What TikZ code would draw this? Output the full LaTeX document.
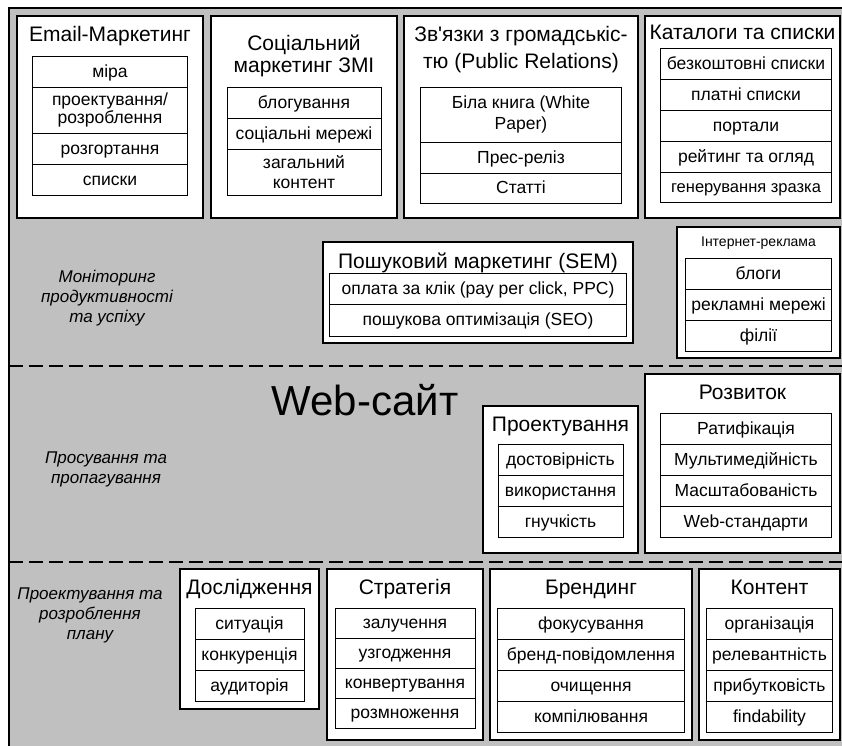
\documentclass[tikz,border=0pt]{standalone}
\usepackage{fontspec}
\setmainfont{Liberation Sans}[Ligatures=TeXOff]
\usetikzlibrary{positioning}
\definecolor{bggray}{RGB}{192,192,192}

\begin{document}
\begin{tikzpicture}[x=1pt,y=-1pt,node distance=0pt]
  \tikzstyle{panel}=[draw,line width=1.1pt,fill=white,anchor=north west,inner sep=0pt,outer sep=0pt]
  \tikzstyle{ttlbase}=[align=center,inner sep=0pt,font=\fontsize{21}{22}\selectfont]
  \tikzstyle{ttl}=[ttlbase,text height=15pt,text depth=4.5pt]
  \tikzstyle{cellbase}=[draw,line width=0.9pt,fill=white,align=center,inner sep=0pt,outer sep=0pt,minimum height=31pt,font=\fontsize{17.5}{19.5}\selectfont]
  \tikzstyle{cell}=[cellbase,text height=14.5pt,text depth=3.5pt]
  \tikzstyle{lbl}=[align=center,font=\itshape\fontsize{17}{20}\selectfont]
  \tikzstyle{zone}=[line width=2.6pt,dash pattern=on 14pt off 6pt]

  \useasboundingbox (0,0) rectangle (842,745);
  \clip (0,0) rectangle (842,745);
  \fill[bggray] (9,8) rectangle (850,760);
  \draw[line width=1.4pt] (9,760) -- (9,8) -- (850,8);
  \draw[zone] (9,366) -- (850,366);
  \draw[zone] (9,562) -- (850,562);

  % channels
  \node[panel,minimum width=186pt,minimum height=202pt] (email) at (17,16) {};
  \node[ttl] (emailt) at ([yshift=-20.5pt]email.north) {Email-Маркетинг};
  \node[cell,minimum width=155pt,below=40pt of email.north] (email1) {міра};
  \node[cellbase,minimum width=155pt,minimum height=46pt,below=of email1,font=\fontsize{17.5}{18.5}\selectfont] (email2) {проектування/\\розроблення};
  \node[cell,minimum width=155pt,below=of email2] (email3) {розгортання};
  \node[cell,minimum width=155pt,below=of email3] (email4) {списки};

  \node[panel,minimum width=186pt,minimum height=202pt] (smm) at (211,16) {};
  \node[ttlbase] (smmt) at ([yshift=-39.5pt]smm.north) {Соціальний\\маркетинг ЗМІ};
  \node[cell,minimum width=154pt,below=71pt of smm.north] (smm1) {блогування};
  \node[cell,minimum width=154pt,below=of smm1] (smm2) {соціальні мережі};
  \node[cellbase,minimum width=154pt,minimum height=46pt,below=of smm2,font=\fontsize{17.5}{20}\selectfont] (smm3) {загальний\\контент};

  \node[panel,minimum width=234pt,minimum height=202pt] (pr) at (404,16) {};
  \node[ttlbase,font=\fontsize{21}{27}\selectfont] (prt) at ([yshift=-33.5pt]pr.north) {Зв'язки з громадськіс-\\тю (Public Relations)};
  \node[cellbase,minimum width=201pt,minimum height=55pt,below=71pt of pr.north,font=\fontsize{17.5}{21.5}\selectfont] (pr1) {Біла книга (White\\Paper)};
  \node[cell,minimum width=201pt,below=of pr1] (pr2) {Прес-реліз};
  \node[cell,minimum width=201pt,minimum height=30pt,below=of pr2] (pr3) {Статті};

  \node[panel,minimum width=195pt,minimum height=202pt] (cat) at (645,16) {};
  \node[ttl] (catt) at ([yshift=-18pt]cat.north) {Каталоги та списки};
  \node[cell,minimum width=171pt,below=32pt of cat.north,xshift=3.5pt] (cat1) {безкоштовні списки};
  \node[cell,minimum width=171pt,below=of cat1] (cat2) {платні списки};
  \node[cell,minimum width=171pt,below=of cat2] (cat3) {портали};
  \node[cell,minimum width=171pt,below=of cat3] (cat4) {рейтинг та огляд};
  \node[cell,minimum width=171pt,minimum height=30pt,below=of cat4,font=\fontsize{16.5}{18}\selectfont] (cat5) {генерування зразка};

  \node[lbl] (monitor) at (107,298) {Моніторинг\\продуктивності\\та успіху};

  \node[panel,minimum width=310pt,minimum height=101pt] (sem) at (323,242) {};
  \node[ttl] (semt) at ([yshift=-21pt]sem.north) {Пошуковий маркетинг (SEM)};
  \node[cell,minimum width=297pt,below=31pt of sem.north] (sem1) {оплата за клік (pay per click, PPC)};
  \node[cell,minimum width=297pt,minimum height=32pt,below=of sem1] (sem2) {пошукова оптимізація (SEO)};

  \node[panel,minimum width=163pt,minimum height=131pt] (ads) at (677,227) {};
  \node[ttlbase,font=\fontsize{14}{16}\selectfont,text height=10pt,text depth=3pt] (adst) at ([yshift=-16.2pt]ads.north) {Інтернет-реклама};
  \node[cell,minimum width=146pt,below=31pt of ads.north] (ads1) {блоги};
  \node[cell,minimum width=146pt,below=of ads1] (ads2) {рекламні мережі};
  \node[cell,minimum width=146pt,below=of ads2] (ads3) {філії};

  % website
  \node[font=\fontsize{42}{46}\selectfont,inner sep=0pt] (web) at (365,400) {Web-сайт};
  \node[lbl] (promo) at (106,469) {Просування та\\пропагування};

  \node[panel,minimum width=155pt,minimum height=147pt] (design) at (483,406) {};
  \node[ttl] (designt) at ([yshift=-20.4pt]design.north) {Проектування};
  \node[cell,minimum width=125pt,below=38pt of design.north] (design1) {достовірність};
  \node[cell,minimum width=125pt,below=of design1] (design2) {використання};
  \node[cell,minimum width=125pt,below=of design2] (design3) {гнучкість};

  \node[panel,minimum width=195pt,minimum height=179pt] (dev) at (645,374) {};
  \node[ttl] (devt) at ([yshift=-20.7pt]dev.north) {Розвиток};
  \node[cell,minimum width=171pt,below=39pt of dev.north,xshift=3.5pt] (dev1) {Ратифікація};
  \node[cell,minimum width=171pt,below=of dev1] (dev2) {Мультимедійність};
  \node[cell,minimum width=171pt,below=of dev2] (dev3) {Масштабованість};
  \node[cell,minimum width=171pt,below=of dev3] (dev4) {Web-стандарти};

  % plan
  \node[lbl] (plan) at (90,615) {Проектування та\\розроблення\\плану};

  \node[panel,minimum width=139pt,minimum height=140pt] (study) at (180,569) {};
  \node[ttl] (studyt) at ([yshift=-20.7pt]study.north) {Дослідження};
  \node[cell,minimum width=109pt,below=39pt of study.north] (study1) {ситуація};
  \node[cell,minimum width=109pt,below=of study1] (study2) {конкуренція};
  \node[cell,minimum width=109pt,below=of study2] (study3) {аудиторія};

  \node[panel,minimum width=156pt,minimum height=171pt] (strat) at (327,569) {};
  \node[ttl] (stratt) at ([yshift=-20.7pt]strat.north) {Стратегія};
  \node[cell,minimum width=140pt,minimum height=30pt,below=39pt of strat.north] (strat1) {залучення};
  \node[cell,minimum width=140pt,minimum height=30pt,below=of strat1] (strat2) {узгодження};
  \node[cell,minimum width=140pt,minimum height=30pt,below=of strat2] (strat3) {конвертування};
  \node[cell,minimum width=140pt,minimum height=30pt,below=of strat3] (strat4) {розмноження};

  \node[panel,minimum width=202pt,minimum height=171pt] (brand) at (490,569) {};
  \node[ttl] (brandt) at ([yshift=-20.7pt]brand.north) {Брендинг};
  \node[cell,minimum width=187pt,below=39pt of brand.north] (brand1) {фокусування};
  \node[cell,minimum width=187pt,below=of brand1] (brand2) {бренд-повідомлення};
  \node[cell,minimum width=187pt,below=of brand2] (brand3) {очищення};
  \node[cell,minimum width=187pt,below=of brand3] (brand4) {компілювання};

  \node[panel,minimum width=141pt,minimum height=171pt] (content) at (699,569) {};
  \node[ttl] (contentt) at ([yshift=-20.7pt]content.north) {Контент};
  \node[cell,minimum width=126pt,below=39pt of content.north] (content1) {організація};
  \node[cell,minimum width=126pt,below=of content1] (content2) {релевантність};
  \node[cell,minimum width=126pt,below=of content2] (content3) {прибутковість};
  \node[cell,minimum width=126pt,below=of content3] (content4) {findability};
\end{tikzpicture}
\end{document}
